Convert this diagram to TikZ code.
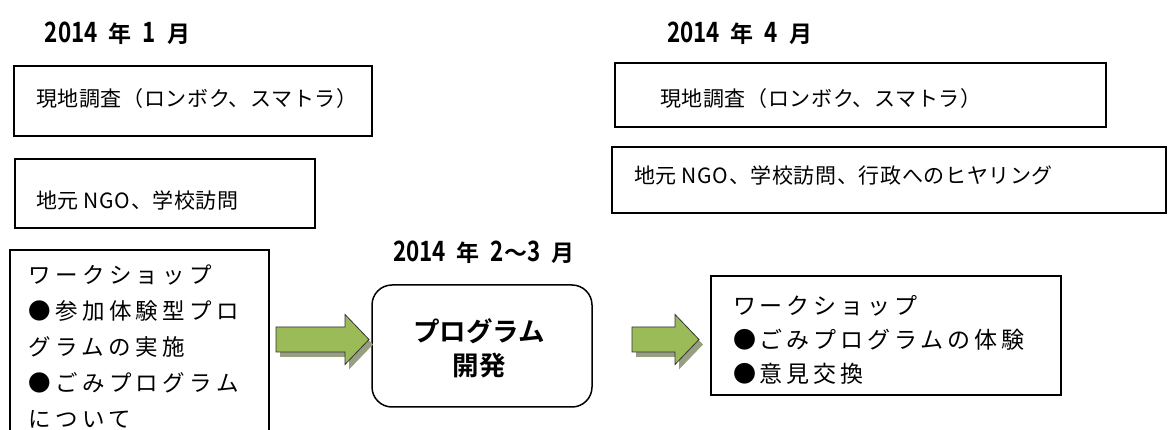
\documentclass[tikz,border=0pt]{standalone}
\usepackage{fontspec}
\newfontfamily\jp{Noto Sans CJK JP}[LetterSpace=3]
\newfontfamily\jpw{Noto Sans CJK JP}[LetterSpace=20]
\newfontfamily\jpv{Noto Sans CJK JP}[LetterSpace=17]
\newfontfamily\jpb{Noto Sans CJK JP Bold}
\newfontfamily\digb{Noto Sans CJK JP Bold}[FakeStretch=0.8]
\newcommand\mytitle[2]{{\digb\fontsize{28}{28}\selectfont #1}\hspace{11pt}{\jpb\fontsize{23}{23}\selectfont 年}\hspace{11pt}{\digb\fontsize{28}{28}\selectfont #2}\hspace{11pt}{\jpb\fontsize{23}{23}\selectfont 月}}
\definecolor{arrowgreen}{RGB}{155,187,89}
\definecolor{shadowgray}{RGB}{150,160,128}
\tikzset{
  boxline/.style={draw=black, line width=1.3pt},
  plain/.style={inner sep=0pt, outer sep=0pt, text=black},
  ttl/.style={plain, anchor=west},
  toptext/.style={plain, anchor=west, font={\jp\fontsize{21}{21}\selectfont}},
  arrowbody/.style={fill=arrowgreen, draw=black!80, line width=0.8pt, line join=miter},
  arrowshadow/.style={fill=shadowgray, draw=none},
}
\begin{document}
\begin{tikzpicture}[x=1pt,y=-1pt]
\useasboundingbox[fill=white] (0,0) rectangle (1171,430);

% titles
\node[ttl] (t1) at (45,33) {\mytitle{2014}{1}};
\node[ttl] (t2) at (667,33) {\mytitle{2014}{4}};
\node[ttl] (t3) at (393,252) {\mytitle{2014}{2{\jpb\fontsize{23}{23}\selectfont ～}3}};

% left column boxes
\draw[boxline] (14,66) rectangle (372,136);
\node[toptext] (l1) at (36,99) {現地調査（ロンボク、スマトラ）};
\draw[boxline] (15,159) rectangle (315,228);
\node[toptext] (l2) at (36,201) {地元 NGO、学校訪問};

% right column boxes
\draw[boxline] (615,63) rectangle (1106,127);
\node[toptext] (r1) at (660,99) {現地調査（ロンボク、スマトラ）};
\draw[boxline] (612,147) rectangle (1166,213);
\node[toptext] (r2) at (634,176) {地元 NGO、学校訪問、行政へのヒヤリング};

% left workshop box (open at bottom)
\draw[boxline] (10,432) -- (10,250) -- (269,250) -- (269,432);
\node[plain, anchor=north west, align=left, font={\jpw\fontsize{22.5}{36}\selectfont}] (w1) at (28,265) {ワークショップ\\●参加体験型プロ\\グラムの実施\\●ごみプログラム\\について};

% program development box
\node[draw=black, line width=1.5pt, rounded corners=20pt, minimum width=220pt, minimum height=122pt, inner sep=0pt] (pd) at (482,346) {};
\node[plain, align=center, font={\jpb\fontsize{26.5}{34}\selectfont}] (pdt) at (479,348) {プログラム\\開発};

% right workshop box
\draw[boxline] (711,276) rectangle (1061,395);
\node[plain, anchor=north west, align=left, font={\jpv\fontsize{23}{34}\selectfont}] (w2) at (733,295) {ワークショップ\\●ごみプログラムの体験\\●意見交換};

% arrows
\coordinate (a1s) at (276,339.5);
\coordinate (a2s) at (632,339.5);
\begin{scope}[shift={(4,5)}]
\fill[arrowshadow] (276,327) -- (345,327) -- (345,314.5) -- (369,339.5) -- (345,364.5) -- (345,352) -- (276,352) -- cycle;
\fill[arrowshadow] (632,327) -- (675,327) -- (675,314.5) -- (699,339.5) -- (675,364.5) -- (675,352) -- (632,352) -- cycle;
\end{scope}
\draw[arrowbody] (276,327) -- (345,327) -- (345,314.5) -- (369,339.5) -- (345,364.5) -- (345,352) -- (276,352) -- cycle;
\draw[arrowbody] (632,327) -- (675,327) -- (675,314.5) -- (699,339.5) -- (675,364.5) -- (675,352) -- (632,352) -- cycle;
\end{tikzpicture}
\end{document}
